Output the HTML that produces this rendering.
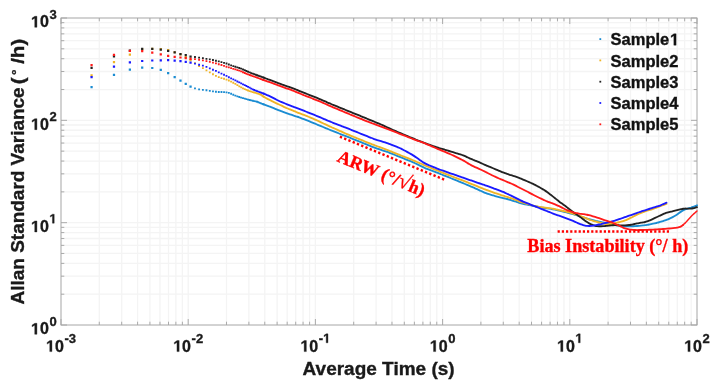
<!DOCTYPE html>
<html><head><meta charset="utf-8"><style>
html,body{margin:0;padding:0;background:#fff;width:715px;height:388px;overflow:hidden}
svg{display:block;filter:blur(0.45px)}
text{font-family:"Liberation Sans",sans-serif;font-weight:bold;fill:#1a1a1a;stroke:#1a1a1a;stroke-width:0.35px}
.tk{font-size:16px}
.sup{font-size:13px}
.leg{font-size:16.5px;fill:#111;stroke:#111}
.axl{font-size:18px;fill:#1a1a1a}
.ann{font-family:"Liberation Serif",serif;font-size:18px;fill:#ff0000;stroke:#ff0000}
</style></head><body>
<svg width="715" height="388" viewBox="0 0 715 388">
<path d="M99.29 18.0V325.0M121.69 18.0V325.0M137.58 18.0V325.0M149.91 18.0V325.0M159.98 18.0V325.0M168.50 18.0V325.0M175.87 18.0V325.0M182.38 18.0V325.0M188.20 18.0V325.0M226.49 18.0V325.0M248.89 18.0V325.0M264.78 18.0V325.0M277.11 18.0V325.0M287.18 18.0V325.0M295.70 18.0V325.0M303.07 18.0V325.0M309.58 18.0V325.0M315.40 18.0V325.0M353.69 18.0V325.0M376.09 18.0V325.0M391.98 18.0V325.0M404.31 18.0V325.0M414.38 18.0V325.0M422.90 18.0V325.0M430.27 18.0V325.0M436.78 18.0V325.0M442.60 18.0V325.0M480.89 18.0V325.0M503.29 18.0V325.0M519.18 18.0V325.0M531.51 18.0V325.0M541.58 18.0V325.0M550.10 18.0V325.0M557.47 18.0V325.0M563.98 18.0V325.0M569.80 18.0V325.0M608.09 18.0V325.0M630.49 18.0V325.0M646.38 18.0V325.0M658.71 18.0V325.0M668.78 18.0V325.0M677.30 18.0V325.0M684.67 18.0V325.0M691.18 18.0V325.0M61.0 294.19H697.0M61.0 276.17H697.0M61.0 263.39H697.0M61.0 253.47H697.0M61.0 245.37H697.0M61.0 238.52H697.0M61.0 232.58H697.0M61.0 227.35H697.0M61.0 222.67H697.0M61.0 191.86H697.0M61.0 173.84H697.0M61.0 161.06H697.0M61.0 151.14H697.0M61.0 143.04H697.0M61.0 136.18H697.0M61.0 130.25H697.0M61.0 125.02H697.0M61.0 120.33H697.0M61.0 89.53H697.0M61.0 71.51H697.0M61.0 58.72H697.0M61.0 48.81H697.0M61.0 40.70H697.0M61.0 33.85H697.0M61.0 27.92H697.0M61.0 22.68H697.0" stroke="#f4f4f4" stroke-width="1.3" fill="none"/>
<path d="M61.00 325.0v-6.0M61.00 18.0v6.0M99.29 325.0v-3.3M99.29 18.0v3.3M121.69 325.0v-3.3M121.69 18.0v3.3M137.58 325.0v-3.3M137.58 18.0v3.3M149.91 325.0v-3.3M149.91 18.0v3.3M159.98 325.0v-3.3M159.98 18.0v3.3M168.50 325.0v-3.3M168.50 18.0v3.3M175.87 325.0v-3.3M175.87 18.0v3.3M182.38 325.0v-3.3M182.38 18.0v3.3M188.20 325.0v-6.0M188.20 18.0v6.0M226.49 325.0v-3.3M226.49 18.0v3.3M248.89 325.0v-3.3M248.89 18.0v3.3M264.78 325.0v-3.3M264.78 18.0v3.3M277.11 325.0v-3.3M277.11 18.0v3.3M287.18 325.0v-3.3M287.18 18.0v3.3M295.70 325.0v-3.3M295.70 18.0v3.3M303.07 325.0v-3.3M303.07 18.0v3.3M309.58 325.0v-3.3M309.58 18.0v3.3M315.40 325.0v-6.0M315.40 18.0v6.0M353.69 325.0v-3.3M353.69 18.0v3.3M376.09 325.0v-3.3M376.09 18.0v3.3M391.98 325.0v-3.3M391.98 18.0v3.3M404.31 325.0v-3.3M404.31 18.0v3.3M414.38 325.0v-3.3M414.38 18.0v3.3M422.90 325.0v-3.3M422.90 18.0v3.3M430.27 325.0v-3.3M430.27 18.0v3.3M436.78 325.0v-3.3M436.78 18.0v3.3M442.60 325.0v-6.0M442.60 18.0v6.0M480.89 325.0v-3.3M480.89 18.0v3.3M503.29 325.0v-3.3M503.29 18.0v3.3M519.18 325.0v-3.3M519.18 18.0v3.3M531.51 325.0v-3.3M531.51 18.0v3.3M541.58 325.0v-3.3M541.58 18.0v3.3M550.10 325.0v-3.3M550.10 18.0v3.3M557.47 325.0v-3.3M557.47 18.0v3.3M563.98 325.0v-3.3M563.98 18.0v3.3M569.80 325.0v-6.0M569.80 18.0v6.0M608.09 325.0v-3.3M608.09 18.0v3.3M630.49 325.0v-3.3M630.49 18.0v3.3M646.38 325.0v-3.3M646.38 18.0v3.3M658.71 325.0v-3.3M658.71 18.0v3.3M668.78 325.0v-3.3M668.78 18.0v3.3M677.30 325.0v-3.3M677.30 18.0v3.3M684.67 325.0v-3.3M684.67 18.0v3.3M691.18 325.0v-3.3M691.18 18.0v3.3M697.00 325.0v-6.0M697.00 18.0v6.0M61.0 325.00h6.0M697.0 325.00h-6.0M61.0 294.19h3.3M697.0 294.19h-3.3M61.0 276.17h3.3M697.0 276.17h-3.3M61.0 263.39h3.3M697.0 263.39h-3.3M61.0 253.47h3.3M697.0 253.47h-3.3M61.0 245.37h3.3M697.0 245.37h-3.3M61.0 238.52h3.3M697.0 238.52h-3.3M61.0 232.58h3.3M697.0 232.58h-3.3M61.0 227.35h3.3M697.0 227.35h-3.3M61.0 222.67h6.0M697.0 222.67h-6.0M61.0 191.86h3.3M697.0 191.86h-3.3M61.0 173.84h3.3M697.0 173.84h-3.3M61.0 161.06h3.3M697.0 161.06h-3.3M61.0 151.14h3.3M697.0 151.14h-3.3M61.0 143.04h3.3M697.0 143.04h-3.3M61.0 136.18h3.3M697.0 136.18h-3.3M61.0 130.25h3.3M697.0 130.25h-3.3M61.0 125.02h3.3M697.0 125.02h-3.3M61.0 120.33h6.0M697.0 120.33h-6.0M61.0 89.53h3.3M697.0 89.53h-3.3M61.0 71.51h3.3M697.0 71.51h-3.3M61.0 58.72h3.3M697.0 58.72h-3.3M61.0 48.81h3.3M697.0 48.81h-3.3M61.0 40.70h3.3M697.0 40.70h-3.3M61.0 33.85h3.3M697.0 33.85h-3.3M61.0 27.92h3.3M697.0 27.92h-3.3M61.0 22.68h3.3M697.0 22.68h-3.3M61.0 18.00h6.0M697.0 18.00h-6.0" stroke="#ababab" stroke-width="1" fill="none"/>
<rect x="61.0" y="18.0" width="636.0" height="307.0" fill="none" stroke="#a6a6a6" stroke-width="1"/>
<path d="M90.46 85.98h2.24v2.24h-2.24zM112.86 73.69h2.24v2.24h-2.24zM128.75 68.39h2.24v2.24h-2.24zM141.08 66.48h2.24v2.24h-2.24zM151.15 66.88h2.24v2.24h-2.24zM159.66 68.85h2.24v2.24h-2.24zM167.04 72.12h2.24v2.24h-2.24zM173.55 75.90h2.24v2.24h-2.24zM179.37 79.57h2.24v2.24h-2.24zM184.63 82.87h2.24v2.24h-2.24zM189.44 85.56h2.24v2.24h-2.24zM194.06 87.44h1.84v1.84h-1.84zM198.16 88.39h1.84v1.84h-1.84zM201.97 88.98h1.84v1.84h-1.84zM205.53 89.37h1.84v1.84h-1.84zM208.88 89.95h1.84v1.84h-1.84zM212.04 90.44h1.84v1.84h-1.84zM215.03 90.82h1.84v1.84h-1.84zM217.86 91.04h1.84v1.84h-1.84zM220.55 91.08h1.84v1.84h-1.84zM223.12 91.14h1.84v1.84h-1.84zM225.58 91.39h1.84v1.84h-1.84zM227.93 91.97h1.84v1.84h-1.84zM230.19 92.87h1.84v1.84h-1.84zM232.35 93.80h1.84v1.84h-1.84zM234.44 94.63h1.84v1.84h-1.84zM236.45 95.39h1.84v1.84h-1.84zM238.38 96.08h1.84v1.84h-1.84zM240.26 96.68h1.84v1.84h-1.84zM242.07 97.23h1.84v1.84h-1.84zM243.82 97.74h1.84v1.84h-1.84zM245.52 98.28h1.84v1.84h-1.84zM247.17 98.76h1.84v1.84h-1.84zM248.77 99.11h1.84v1.84h-1.84zM250.33 99.46h1.84v1.84h-1.84zM251.84 99.83h1.84v1.84h-1.84zM253.32 100.18h1.84v1.84h-1.84zM254.75 100.52h1.84v1.84h-1.84zM256.15 100.85h1.84v1.84h-1.84zM257.51 101.36h1.84v1.84h-1.84zM258.85 101.89h1.84v1.84h-1.84zM260.14 102.42h1.84v1.84h-1.84zM261.41 102.95h1.84v1.84h-1.84zM262.66 103.46h1.84v1.84h-1.84z" fill="#1a8cd2"/>
<path d="M263.08 104.17 C263.41 104.30 264.41 104.70 265.08 104.96 C265.74 105.22 266.41 105.46 267.08 105.71 C267.74 105.96 268.41 106.19 269.08 106.43 C269.74 106.68 270.41 106.92 271.08 107.18 C271.74 107.44 272.41 107.70 273.08 107.97 C273.74 108.23 274.41 108.51 275.08 108.78 C275.74 109.05 276.41 109.33 277.08 109.60 C277.74 109.86 278.41 110.13 279.08 110.40 C279.74 110.66 280.41 110.91 281.08 111.16 C281.74 111.42 282.41 111.66 283.08 111.90 C283.74 112.14 284.41 112.38 285.08 112.62 C285.74 112.86 286.41 113.10 287.08 113.34 C287.74 113.57 288.41 113.81 289.08 114.04 C289.74 114.28 290.41 114.51 291.08 114.74 C291.74 114.97 292.41 115.19 293.08 115.41 C293.74 115.62 294.41 115.83 295.08 116.04 C295.74 116.25 296.41 116.44 297.08 116.66 C297.74 116.87 298.41 117.08 299.08 117.31 C299.74 117.54 300.41 117.79 301.08 118.04 C301.74 118.29 302.41 118.55 303.08 118.82 C303.74 119.08 304.41 119.35 305.08 119.61 C305.74 119.88 306.41 120.15 307.08 120.42 C307.74 120.69 308.41 120.96 309.08 121.23 C309.74 121.50 310.41 121.77 311.08 122.05 C311.74 122.32 312.41 122.59 313.08 122.87 C313.74 123.14 314.41 123.42 315.08 123.70 C315.74 123.97 316.41 124.25 317.08 124.53 C317.74 124.80 318.41 125.08 319.08 125.36 C319.74 125.63 320.41 125.91 321.08 126.19 C321.74 126.47 322.41 126.74 323.08 127.02 C323.74 127.30 324.41 127.57 325.08 127.85 C325.74 128.13 326.41 128.41 327.08 128.68 C327.74 128.96 328.41 129.23 329.08 129.51 C329.74 129.78 330.41 130.05 331.08 130.32 C331.74 130.58 332.41 130.85 333.08 131.11 C333.74 131.38 334.41 131.64 335.08 131.91 C335.74 132.17 336.41 132.43 337.08 132.70 C337.74 132.96 338.41 133.22 339.08 133.49 C339.74 133.75 340.41 134.01 341.08 134.28 C341.74 134.54 342.41 134.80 343.08 135.07 C343.74 135.33 344.41 135.60 345.08 135.86 C345.74 136.12 346.41 136.39 347.08 136.65 C347.74 136.92 348.41 137.18 349.08 137.45 C349.74 137.71 350.41 137.98 351.08 138.25 C351.74 138.51 352.41 138.78 353.08 139.04 C353.74 139.31 354.41 139.57 355.08 139.84 C355.74 140.11 356.41 140.37 357.08 140.64 C357.74 140.90 358.41 141.17 359.08 141.44 C359.74 141.70 360.41 141.97 361.08 142.23 C361.74 142.50 362.41 142.77 363.08 143.04 C363.74 143.31 364.41 143.58 365.08 143.85 C365.74 144.12 366.41 144.39 367.08 144.66 C367.74 144.93 368.41 145.21 369.08 145.48 C369.74 145.75 370.41 146.02 371.08 146.29 C371.74 146.56 372.41 146.83 373.08 147.10 C373.74 147.36 374.41 147.61 375.08 147.86 C375.74 148.10 376.41 148.33 377.08 148.56 C377.74 148.79 378.41 149.01 379.08 149.23 C379.74 149.44 380.41 149.66 381.08 149.88 C381.74 150.10 382.41 150.31 383.08 150.53 C383.74 150.75 384.41 150.96 385.08 151.19 C385.74 151.41 386.41 151.64 387.08 151.87 C387.74 152.11 388.41 152.35 389.08 152.61 C389.74 152.86 390.41 153.12 391.08 153.39 C391.74 153.65 392.41 153.92 393.08 154.19 C393.74 154.45 394.41 154.72 395.08 154.99 C395.74 155.26 396.41 155.53 397.08 155.80 C397.74 156.07 398.41 156.34 399.08 156.61 C399.74 156.87 400.41 157.14 401.08 157.41 C401.74 157.68 402.41 157.95 403.08 158.22 C403.74 158.49 404.41 158.76 405.08 159.02 C405.74 159.29 406.41 159.56 407.08 159.83 C407.74 160.10 408.41 160.37 409.08 160.64 C409.74 160.91 410.41 161.18 411.08 161.45 C411.74 161.73 412.41 162.01 413.08 162.30 C413.74 162.60 414.41 162.90 415.08 163.22 C415.74 163.53 416.41 163.85 417.08 164.18 C417.74 164.50 418.41 164.84 419.08 165.16 C419.74 165.49 420.41 165.83 421.08 166.15 C421.74 166.48 422.41 166.81 423.08 167.12 C423.74 167.43 424.41 167.74 425.08 168.03 C425.74 168.32 426.41 168.60 427.08 168.87 C427.74 169.13 428.41 169.39 429.08 169.65 C429.74 169.90 430.41 170.15 431.08 170.41 C431.74 170.66 432.41 170.91 433.08 171.17 C433.74 171.42 434.41 171.67 435.08 171.93 C435.74 172.18 436.41 172.44 437.08 172.70 C437.74 172.95 438.41 173.21 439.08 173.47 C439.74 173.73 440.41 174.00 441.08 174.26 C441.74 174.53 442.41 174.79 443.08 175.05 C443.74 175.32 444.41 175.58 445.08 175.85 C445.74 176.11 446.41 176.38 447.08 176.64 C447.74 176.91 448.41 177.17 449.08 177.44 C449.74 177.71 450.41 177.98 451.08 178.25 C451.74 178.52 452.41 178.79 453.08 179.06 C453.74 179.34 454.41 179.61 455.08 179.88 C455.74 180.16 456.41 180.43 457.08 180.71 C457.74 180.98 458.41 181.26 459.08 181.53 C459.74 181.81 460.41 182.08 461.08 182.35 C461.74 182.63 462.41 182.90 463.08 183.18 C463.74 183.45 464.41 183.72 465.08 184.00 C465.74 184.28 466.41 184.55 467.08 184.83 C467.74 185.11 468.41 185.40 469.08 185.69 C469.74 185.97 470.41 186.26 471.08 186.55 C471.74 186.85 472.41 187.14 473.08 187.43 C473.74 187.73 474.41 188.02 475.08 188.31 C475.74 188.61 476.41 188.90 477.08 189.20 C477.74 189.50 478.41 189.80 479.08 190.10 C479.74 190.41 480.41 190.71 481.08 191.01 C481.74 191.31 482.41 191.62 483.08 191.91 C483.74 192.20 484.41 192.50 485.08 192.77 C485.74 193.04 486.41 193.29 487.08 193.53 C487.74 193.77 488.41 193.99 489.08 194.21 C489.74 194.43 490.41 194.63 491.08 194.84 C491.74 195.04 492.41 195.25 493.08 195.45 C493.74 195.65 494.41 195.85 495.08 196.04 C495.74 196.23 496.41 196.42 497.08 196.60 C497.74 196.77 498.41 196.94 499.08 197.11 C499.74 197.28 500.41 197.44 501.08 197.60 C501.74 197.76 502.41 197.92 503.08 198.07 C503.74 198.22 504.41 198.37 505.08 198.52 C505.74 198.67 506.41 198.82 507.08 198.99 C507.74 199.15 508.41 199.33 509.08 199.52 C509.74 199.71 510.41 199.92 511.08 200.14 C511.74 200.35 512.41 200.58 513.08 200.80 C513.74 201.02 514.41 201.25 515.08 201.47 C515.74 201.69 516.41 201.91 517.08 202.12 C517.74 202.33 518.41 202.54 519.08 202.74 C519.74 202.94 520.41 203.14 521.08 203.31 C521.74 203.49 522.41 203.65 523.08 203.80 C523.74 203.95 524.41 204.09 525.08 204.23 C525.74 204.37 526.41 204.50 527.08 204.64 C527.74 204.77 528.41 204.91 529.08 205.04 C529.74 205.17 530.41 205.31 531.08 205.45 C531.74 205.58 532.41 205.72 533.08 205.85 C533.74 205.98 534.41 206.12 535.08 206.25 C535.74 206.39 536.41 206.52 537.08 206.65 C537.74 206.78 538.41 206.92 539.08 207.04 C539.74 207.17 540.41 207.29 541.08 207.41 C541.74 207.53 542.41 207.64 543.08 207.75 C543.74 207.86 544.41 207.96 545.08 208.06 C545.74 208.17 546.41 208.27 547.08 208.37 C547.74 208.47 548.41 208.56 549.08 208.66 C549.74 208.75 550.41 208.85 551.08 208.95 C551.74 209.05 552.41 209.15 553.08 209.27 C553.74 209.39 554.41 209.52 555.08 209.66 C555.74 209.79 556.41 209.95 557.08 210.10 C557.74 210.25 558.41 210.41 559.08 210.56 C559.74 210.72 560.41 210.87 561.08 211.03 C561.74 211.19 562.41 211.35 563.08 211.51 C563.74 211.67 564.41 211.83 565.08 212.00 C565.74 212.17 566.41 212.35 567.08 212.52 C567.74 212.70 568.41 212.88 569.08 213.06 C569.74 213.24 570.41 213.43 571.08 213.61 C571.74 213.79 572.41 213.97 573.08 214.16 C573.74 214.35 574.41 214.54 575.08 214.74 C575.74 214.95 576.41 215.16 577.08 215.38 C577.74 215.60 578.41 215.83 579.08 216.05 C579.74 216.27 580.41 216.50 581.08 216.72 C581.74 216.93 582.41 217.15 583.08 217.35 C583.74 217.56 584.41 217.77 585.08 217.97 C585.74 218.17 586.41 218.37 587.08 218.57 C587.74 218.77 588.41 218.96 589.08 219.15 C589.74 219.34 590.41 219.53 591.08 219.71 C591.74 219.89 592.41 220.06 593.08 220.23 C593.74 220.40 594.41 220.56 595.08 220.72 C595.74 220.88 596.41 221.02 597.08 221.17 C597.74 221.31 598.41 221.45 599.08 221.59 C599.74 221.73 600.41 221.87 601.08 222.02 C601.74 222.17 602.41 222.32 603.08 222.49 C603.74 222.65 604.41 222.82 605.08 222.99 C605.74 223.17 606.41 223.36 607.08 223.54 C607.74 223.72 608.41 223.91 609.08 224.07 C609.74 224.23 610.41 224.38 611.08 224.51 C611.74 224.63 612.41 224.73 613.08 224.83 C613.74 224.92 614.41 225.01 615.08 225.10 C615.74 225.19 616.41 225.29 617.08 225.38 C617.74 225.47 618.41 225.57 619.08 225.66 C619.74 225.75 620.41 225.84 621.08 225.92 C621.74 226.00 622.41 226.07 623.08 226.13 C623.74 226.19 624.41 226.25 625.08 226.28 C625.74 226.32 626.41 226.35 627.08 226.36 C627.74 226.38 628.41 226.38 629.08 226.38 C629.74 226.37 630.41 226.36 631.08 226.34 C631.74 226.32 632.41 226.29 633.08 226.25 C633.74 226.22 634.41 226.18 635.08 226.14 C635.74 226.10 636.41 226.05 637.08 226.00 C637.74 225.95 638.41 225.90 639.08 225.85 C639.74 225.79 640.41 225.73 641.08 225.67 C641.74 225.60 642.41 225.53 643.08 225.45 C643.74 225.38 644.41 225.29 645.08 225.20 C645.74 225.11 646.41 225.00 647.08 224.89 C647.74 224.78 648.41 224.66 649.08 224.53 C649.74 224.41 650.41 224.27 651.08 224.13 C651.74 223.99 652.41 223.84 653.08 223.69 C653.74 223.54 654.41 223.38 655.08 223.23 C655.74 223.07 656.41 222.92 657.08 222.75 C657.74 222.59 658.41 222.43 659.08 222.25 C659.74 222.08 660.41 221.89 661.08 221.69 C661.74 221.50 662.41 221.29 663.08 221.07 C663.74 220.85 664.41 220.62 665.08 220.38 C665.74 220.14 666.41 219.88 667.08 219.62 C667.74 219.36 668.41 219.08 669.08 218.79 C669.74 218.51 670.41 218.21 671.08 217.90 C671.74 217.59 672.41 217.27 673.08 216.91 C673.74 216.56 674.41 216.20 675.08 215.79 C675.74 215.38 676.41 214.93 677.08 214.47 C677.74 214.00 678.41 213.49 679.08 213.01 C679.74 212.53 680.41 212.04 681.08 211.61 C681.74 211.18 682.41 210.77 683.08 210.42 C683.74 210.06 684.41 209.75 685.08 209.48 C685.74 209.20 686.41 208.98 687.08 208.77 C687.74 208.55 688.41 208.38 689.08 208.18 C689.74 207.98 690.41 207.78 691.08 207.57 C691.74 207.35 692.41 207.12 693.08 206.88 C693.74 206.64 694.42 206.38 695.08 206.11 C695.73 205.85 696.68 205.44 697.00 205.30" fill="none" stroke="#1a8cd2" stroke-width="1.85" stroke-linejoin="round" stroke-linecap="round"/>
<path d="M90.46 74.17h2.24v2.24h-2.24zM112.86 60.89h2.24v2.24h-2.24zM128.75 53.49h2.24v2.24h-2.24zM141.08 48.18h2.24v2.24h-2.24zM151.15 47.78h2.24v2.24h-2.24zM159.66 48.08h2.24v2.24h-2.24zM167.04 48.90h2.24v2.24h-2.24zM173.55 51.13h2.24v2.24h-2.24zM179.37 53.18h2.24v2.24h-2.24zM184.63 56.11h2.24v2.24h-2.24zM189.44 59.12h2.24v2.24h-2.24zM194.06 62.17h1.84v1.84h-1.84zM198.16 65.12h1.84v1.84h-1.84zM201.97 67.27h1.84v1.84h-1.84zM205.53 69.41h1.84v1.84h-1.84zM208.88 71.38h1.84v1.84h-1.84zM212.04 73.31h1.84v1.84h-1.84zM215.03 75.00h1.84v1.84h-1.84zM217.86 76.22h1.84v1.84h-1.84zM220.55 77.17h1.84v1.84h-1.84zM223.12 77.82h1.84v1.84h-1.84zM225.58 78.66h1.84v1.84h-1.84zM227.93 79.55h1.84v1.84h-1.84zM230.19 80.68h1.84v1.84h-1.84zM232.35 81.82h1.84v1.84h-1.84zM234.44 82.92h1.84v1.84h-1.84zM236.45 84.16h1.84v1.84h-1.84zM238.38 85.42h1.84v1.84h-1.84zM240.26 86.41h1.84v1.84h-1.84zM242.07 87.38h1.84v1.84h-1.84zM243.82 88.25h1.84v1.84h-1.84zM245.52 88.90h1.84v1.84h-1.84zM247.17 89.54h1.84v1.84h-1.84zM248.77 90.16h1.84v1.84h-1.84zM250.33 90.78h1.84v1.84h-1.84zM251.84 91.26h1.84v1.84h-1.84zM253.32 91.61h1.84v1.84h-1.84zM254.75 91.95h1.84v1.84h-1.84zM256.15 92.40h1.84v1.84h-1.84zM257.51 92.86h1.84v1.84h-1.84zM258.85 93.30h1.84v1.84h-1.84zM260.14 93.81h1.84v1.84h-1.84zM261.41 94.79h1.84v1.84h-1.84zM262.66 95.75h1.84v1.84h-1.84z" fill="#efb426"/>
<path d="M263.08 96.28 C263.41 96.48 264.41 97.10 265.08 97.48 C265.74 97.87 266.41 98.24 267.08 98.61 C267.74 98.97 268.41 99.32 269.08 99.67 C269.74 100.01 270.41 100.35 271.08 100.68 C271.74 101.02 272.41 101.34 273.08 101.66 C273.74 101.98 274.41 102.29 275.08 102.60 C275.74 102.92 276.41 103.23 277.08 103.54 C277.74 103.85 278.41 104.17 279.08 104.49 C279.74 104.80 280.41 105.13 281.08 105.45 C281.74 105.78 282.41 106.11 283.08 106.43 C283.74 106.75 284.41 107.08 285.08 107.38 C285.74 107.69 286.41 107.98 287.08 108.25 C287.74 108.53 288.41 108.78 289.08 109.03 C289.74 109.29 290.41 109.52 291.08 109.78 C291.74 110.04 292.41 110.30 293.08 110.57 C293.74 110.85 294.41 111.14 295.08 111.44 C295.74 111.73 296.41 112.04 297.08 112.34 C297.74 112.63 298.41 112.92 299.08 113.20 C299.74 113.47 300.41 113.72 301.08 113.97 C301.74 114.22 302.41 114.44 303.08 114.68 C303.74 114.92 304.41 115.15 305.08 115.40 C305.74 115.65 306.41 115.91 307.08 116.17 C307.74 116.44 308.41 116.71 309.08 116.99 C309.74 117.27 310.41 117.55 311.08 117.84 C311.74 118.12 312.41 118.41 313.08 118.70 C313.74 118.99 314.41 119.29 315.08 119.59 C315.74 119.88 316.41 120.18 317.08 120.48 C317.74 120.78 318.41 121.09 319.08 121.39 C319.74 121.70 320.41 122.01 321.08 122.32 C321.74 122.63 322.41 122.94 323.08 123.25 C323.74 123.57 324.41 123.88 325.08 124.19 C325.74 124.50 326.41 124.82 327.08 125.13 C327.74 125.44 328.41 125.75 329.08 126.06 C329.74 126.37 330.41 126.67 331.08 126.97 C331.74 127.28 332.41 127.58 333.08 127.88 C333.74 128.18 334.41 128.48 335.08 128.78 C335.74 129.08 336.41 129.38 337.08 129.68 C337.74 129.98 338.41 130.28 339.08 130.58 C339.74 130.88 340.41 131.18 341.08 131.47 C341.74 131.77 342.41 132.07 343.08 132.37 C343.74 132.67 344.41 132.97 345.08 133.26 C345.74 133.55 346.41 133.84 347.08 134.13 C347.74 134.41 348.41 134.69 349.08 134.97 C349.74 135.25 350.41 135.52 351.08 135.80 C351.74 136.07 352.41 136.34 353.08 136.62 C353.74 136.89 354.41 137.17 355.08 137.44 C355.74 137.71 356.41 137.99 357.08 138.26 C357.74 138.54 358.41 138.81 359.08 139.08 C359.74 139.36 360.41 139.63 361.08 139.90 C361.74 140.18 362.41 140.45 363.08 140.72 C363.74 140.99 364.41 141.26 365.08 141.53 C365.74 141.80 366.41 142.06 367.08 142.33 C367.74 142.60 368.41 142.86 369.08 143.13 C369.74 143.40 370.41 143.66 371.08 143.93 C371.74 144.19 372.41 144.46 373.08 144.72 C373.74 144.98 374.41 145.24 375.08 145.50 C375.74 145.75 376.41 146.00 377.08 146.25 C377.74 146.50 378.41 146.74 379.08 146.98 C379.74 147.23 380.41 147.47 381.08 147.71 C381.74 147.96 382.41 148.20 383.08 148.44 C383.74 148.69 384.41 148.93 385.08 149.18 C385.74 149.42 386.41 149.67 387.08 149.92 C387.74 150.17 388.41 150.43 389.08 150.69 C389.74 150.95 390.41 151.22 391.08 151.48 C391.74 151.75 392.41 152.02 393.08 152.29 C393.74 152.56 394.41 152.82 395.08 153.09 C395.74 153.36 396.41 153.63 397.08 153.90 C397.74 154.17 398.41 154.44 399.08 154.70 C399.74 154.97 400.41 155.24 401.08 155.50 C401.74 155.77 402.41 156.03 403.08 156.30 C403.74 156.56 404.41 156.83 405.08 157.09 C405.74 157.35 406.41 157.62 407.08 157.88 C407.74 158.15 408.41 158.41 409.08 158.67 C409.74 158.94 410.41 159.20 411.08 159.47 C411.74 159.74 412.41 160.01 413.08 160.28 C413.74 160.56 414.41 160.84 415.08 161.13 C415.74 161.41 416.41 161.70 417.08 162.00 C417.74 162.29 418.41 162.58 419.08 162.88 C419.74 163.17 420.41 163.47 421.08 163.76 C421.74 164.06 422.41 164.35 423.08 164.64 C423.74 164.93 424.41 165.22 425.08 165.51 C425.74 165.79 426.41 166.07 427.08 166.35 C427.74 166.63 428.41 166.90 429.08 167.17 C429.74 167.45 430.41 167.72 431.08 168.00 C431.74 168.27 432.41 168.54 433.08 168.82 C433.74 169.09 434.41 169.37 435.08 169.64 C435.74 169.91 436.41 170.18 437.08 170.45 C437.74 170.72 438.41 170.99 439.08 171.26 C439.74 171.53 440.41 171.79 441.08 172.06 C441.74 172.32 442.41 172.59 443.08 172.85 C443.74 173.12 444.41 173.38 445.08 173.65 C445.74 173.91 446.41 174.18 447.08 174.44 C447.74 174.70 448.41 174.97 449.08 175.23 C449.74 175.49 450.41 175.75 451.08 176.00 C451.74 176.26 452.41 176.51 453.08 176.77 C453.74 177.02 454.41 177.27 455.08 177.52 C455.74 177.78 456.41 178.03 457.08 178.28 C457.74 178.54 458.41 178.79 459.08 179.05 C459.74 179.31 460.41 179.57 461.08 179.84 C461.74 180.10 462.41 180.37 463.08 180.63 C463.74 180.90 464.41 181.16 465.08 181.43 C465.74 181.70 466.41 181.96 467.08 182.23 C467.74 182.49 468.41 182.76 469.08 183.02 C469.74 183.29 470.41 183.55 471.08 183.81 C471.74 184.08 472.41 184.34 473.08 184.61 C473.74 184.87 474.41 185.14 475.08 185.40 C475.74 185.67 476.41 185.93 477.08 186.20 C477.74 186.47 478.41 186.74 479.08 187.02 C479.74 187.29 480.41 187.56 481.08 187.83 C481.74 188.11 482.41 188.38 483.08 188.65 C483.74 188.92 484.41 189.19 485.08 189.45 C485.74 189.71 486.41 189.97 487.08 190.21 C487.74 190.46 488.41 190.70 489.08 190.94 C489.74 191.18 490.41 191.41 491.08 191.64 C491.74 191.88 492.41 192.11 493.08 192.34 C493.74 192.57 494.41 192.81 495.08 193.03 C495.74 193.26 496.41 193.49 497.08 193.71 C497.74 193.93 498.41 194.15 499.08 194.37 C499.74 194.59 500.41 194.81 501.08 195.02 C501.74 195.24 502.41 195.45 503.08 195.66 C503.74 195.87 504.41 196.08 505.08 196.28 C505.74 196.49 506.41 196.70 507.08 196.91 C507.74 197.12 508.41 197.34 509.08 197.55 C509.74 197.77 510.41 198.00 511.08 198.22 C511.74 198.45 512.41 198.68 513.08 198.92 C513.74 199.16 514.41 199.41 515.08 199.66 C515.74 199.92 516.41 200.19 517.08 200.46 C517.74 200.73 518.41 201.02 519.08 201.28 C519.74 201.55 520.41 201.81 521.08 202.05 C521.74 202.29 522.41 202.51 523.08 202.72 C523.74 202.93 524.41 203.12 525.08 203.32 C525.74 203.51 526.41 203.70 527.08 203.89 C527.74 204.08 528.41 204.28 529.08 204.48 C529.74 204.68 530.41 204.89 531.08 205.08 C531.74 205.28 532.41 205.48 533.08 205.65 C533.74 205.83 534.41 205.99 535.08 206.13 C535.74 206.28 536.41 206.39 537.08 206.51 C537.74 206.63 538.41 206.73 539.08 206.83 C539.74 206.93 540.41 207.03 541.08 207.13 C541.74 207.23 542.41 207.32 543.08 207.42 C543.74 207.51 544.41 207.61 545.08 207.69 C545.74 207.78 546.41 207.87 547.08 207.96 C547.74 208.04 548.41 208.12 549.08 208.20 C549.74 208.28 550.41 208.35 551.08 208.43 C551.74 208.52 552.41 208.61 553.08 208.72 C553.74 208.83 554.41 208.96 555.08 209.10 C555.74 209.23 556.41 209.39 557.08 209.55 C557.74 209.71 558.41 209.88 559.08 210.04 C559.74 210.20 560.41 210.36 561.08 210.52 C561.74 210.68 562.41 210.84 563.08 211.00 C563.74 211.16 564.41 211.31 565.08 211.47 C565.74 211.63 566.41 211.78 567.08 211.95 C567.74 212.11 568.41 212.27 569.08 212.45 C569.74 212.62 570.41 212.81 571.08 213.00 C571.74 213.20 572.41 213.41 573.08 213.62 C573.74 213.83 574.41 214.05 575.08 214.27 C575.74 214.49 576.41 214.71 577.08 214.93 C577.74 215.16 578.41 215.38 579.08 215.62 C579.74 215.85 580.41 216.09 581.08 216.34 C581.74 216.59 582.41 216.85 583.08 217.11 C583.74 217.37 584.41 217.64 585.08 217.91 C585.74 218.18 586.41 218.46 587.08 218.72 C587.74 218.99 588.41 219.26 589.08 219.52 C589.74 219.77 590.41 220.02 591.08 220.25 C591.74 220.48 592.41 220.70 593.08 220.90 C593.74 221.11 594.41 221.29 595.08 221.48 C595.74 221.66 596.41 221.84 597.08 222.01 C597.74 222.17 598.41 222.33 599.08 222.50 C599.74 222.66 600.41 222.81 601.08 222.97 C601.74 223.12 602.41 223.28 603.08 223.42 C603.74 223.56 604.41 223.71 605.08 223.83 C605.74 223.94 606.41 224.05 607.08 224.11 C607.74 224.17 608.41 224.20 609.08 224.18 C609.74 224.16 610.41 224.09 611.08 223.99 C611.74 223.90 612.41 223.74 613.08 223.59 C613.74 223.45 614.41 223.27 615.08 223.12 C615.74 222.97 616.41 222.82 617.08 222.67 C617.74 222.52 618.41 222.39 619.08 222.23 C619.74 222.07 620.41 221.91 621.08 221.72 C621.74 221.53 622.41 221.33 623.08 221.10 C623.74 220.88 624.41 220.64 625.08 220.39 C625.74 220.13 626.41 219.86 627.08 219.57 C627.74 219.28 628.41 218.98 629.08 218.66 C629.74 218.35 630.41 218.02 631.08 217.68 C631.74 217.35 632.41 216.99 633.08 216.64 C633.74 216.30 634.41 215.94 635.08 215.60 C635.74 215.25 636.41 214.92 637.08 214.60 C637.74 214.27 638.41 213.96 639.08 213.67 C639.74 213.37 640.41 213.09 641.08 212.82 C641.74 212.55 642.41 212.31 643.08 212.07 C643.74 211.83 644.41 211.61 645.08 211.39 C645.74 211.17 646.41 210.96 647.08 210.74 C647.74 210.53 648.41 210.33 649.08 210.12 C649.74 209.91 650.41 209.71 651.08 209.50 C651.74 209.29 652.41 209.09 653.08 208.87 C653.74 208.65 654.41 208.43 655.08 208.19 C655.74 207.96 656.41 207.71 657.08 207.46 C657.74 207.21 658.41 206.95 659.08 206.69 C659.74 206.43 660.41 206.16 661.08 205.91 C661.74 205.65 662.41 205.39 663.08 205.14 C663.74 204.90 664.51 204.66 665.08 204.43 C665.65 204.21 666.26 203.91 666.50 203.80" fill="none" stroke="#efb426" stroke-width="1.85" stroke-linejoin="round" stroke-linecap="round"/>
<path d="M90.46 66.79h2.24v2.24h-2.24zM112.86 55.19h2.24v2.24h-2.24zM128.75 49.39h2.24v2.24h-2.24zM141.08 47.68h2.24v2.24h-2.24zM151.15 47.68h2.24v2.24h-2.24zM159.66 48.47h2.24v2.24h-2.24zM167.04 49.69h2.24v2.24h-2.24zM173.55 51.25h2.24v2.24h-2.24zM179.37 52.98h2.24v2.24h-2.24zM184.63 54.09h2.24v2.24h-2.24zM189.44 55.39h2.24v2.24h-2.24zM194.06 56.08h1.84v1.84h-1.84zM198.16 56.69h1.84v1.84h-1.84zM201.97 57.28h1.84v1.84h-1.84zM205.53 57.89h1.84v1.84h-1.84zM208.88 58.38h1.84v1.84h-1.84zM212.04 59.09h1.84v1.84h-1.84zM215.03 59.79h1.84v1.84h-1.84zM217.86 60.50h1.84v1.84h-1.84zM220.55 61.23h1.84v1.84h-1.84zM223.12 61.92h1.84v1.84h-1.84zM225.58 62.62h1.84v1.84h-1.84zM227.93 63.55h1.84v1.84h-1.84zM230.19 64.44h1.84v1.84h-1.84zM232.35 65.15h1.84v1.84h-1.84zM234.44 65.83h1.84v1.84h-1.84zM236.45 66.46h1.84v1.84h-1.84zM238.38 67.07h1.84v1.84h-1.84zM240.26 67.77h1.84v1.84h-1.84zM242.07 68.57h1.84v1.84h-1.84zM243.82 69.35h1.84v1.84h-1.84zM245.52 70.09h1.84v1.84h-1.84zM247.17 70.80h1.84v1.84h-1.84zM248.77 71.49h1.84v1.84h-1.84zM250.33 72.13h1.84v1.84h-1.84zM251.84 72.71h1.84v1.84h-1.84zM253.32 73.28h1.84v1.84h-1.84zM254.75 73.83h1.84v1.84h-1.84zM256.15 74.33h1.84v1.84h-1.84zM257.51 74.81h1.84v1.84h-1.84zM258.85 75.28h1.84v1.84h-1.84zM260.14 75.74h1.84v1.84h-1.84zM261.41 76.21h1.84v1.84h-1.84zM262.66 76.68h1.84v1.84h-1.84z" fill="#222222"/>
<path d="M263.08 77.41 C263.41 77.54 264.41 77.91 265.08 78.16 C265.74 78.41 266.41 78.67 267.08 78.92 C267.74 79.17 268.41 79.43 269.08 79.68 C269.74 79.94 270.41 80.19 271.08 80.44 C271.74 80.70 272.41 80.95 273.08 81.20 C273.74 81.45 274.41 81.70 275.08 81.95 C275.74 82.20 276.41 82.45 277.08 82.70 C277.74 82.95 278.41 83.20 279.08 83.44 C279.74 83.68 280.41 83.93 281.08 84.16 C281.74 84.40 282.41 84.64 283.08 84.87 C283.74 85.11 284.41 85.34 285.08 85.57 C285.74 85.80 286.41 86.04 287.08 86.27 C287.74 86.50 288.41 86.73 289.08 86.97 C289.74 87.20 290.41 87.44 291.08 87.68 C291.74 87.92 292.41 88.16 293.08 88.41 C293.74 88.67 294.41 88.93 295.08 89.19 C295.74 89.45 296.41 89.72 297.08 89.98 C297.74 90.25 298.41 90.52 299.08 90.79 C299.74 91.06 300.41 91.33 301.08 91.60 C301.74 91.86 302.41 92.13 303.08 92.40 C303.74 92.67 304.41 92.94 305.08 93.20 C305.74 93.47 306.41 93.74 307.08 94.00 C307.74 94.27 308.41 94.53 309.08 94.79 C309.74 95.06 310.41 95.32 311.08 95.59 C311.74 95.85 312.41 96.11 313.08 96.38 C313.74 96.64 314.41 96.90 315.08 97.17 C315.74 97.44 316.41 97.70 317.08 97.97 C317.74 98.24 318.41 98.52 319.08 98.80 C319.74 99.08 320.41 99.37 321.08 99.66 C321.74 99.95 322.41 100.24 323.08 100.54 C323.74 100.83 324.41 101.13 325.08 101.42 C325.74 101.72 326.41 102.01 327.08 102.30 C327.74 102.60 328.41 102.89 329.08 103.17 C329.74 103.46 330.41 103.74 331.08 104.02 C331.74 104.30 332.41 104.58 333.08 104.85 C333.74 105.12 334.41 105.39 335.08 105.67 C335.74 105.94 336.41 106.21 337.08 106.48 C337.74 106.75 338.41 107.02 339.08 107.30 C339.74 107.57 340.41 107.84 341.08 108.11 C341.74 108.38 342.41 108.65 343.08 108.92 C343.74 109.20 344.41 109.47 345.08 109.74 C345.74 110.01 346.41 110.28 347.08 110.56 C347.74 110.83 348.41 111.10 349.08 111.38 C349.74 111.65 350.41 111.92 351.08 112.20 C351.74 112.47 352.41 112.75 353.08 113.02 C353.74 113.29 354.41 113.57 355.08 113.84 C355.74 114.11 356.41 114.39 357.08 114.66 C357.74 114.94 358.41 115.21 359.08 115.48 C359.74 115.76 360.41 116.03 361.08 116.30 C361.74 116.58 362.41 116.85 363.08 117.12 C363.74 117.40 364.41 117.67 365.08 117.94 C365.74 118.22 366.41 118.49 367.08 118.76 C367.74 119.03 368.41 119.31 369.08 119.58 C369.74 119.85 370.41 120.12 371.08 120.40 C371.74 120.67 372.41 120.94 373.08 121.21 C373.74 121.48 374.41 121.75 375.08 122.02 C375.74 122.29 376.41 122.56 377.08 122.83 C377.74 123.11 378.41 123.38 379.08 123.66 C379.74 123.94 380.41 124.23 381.08 124.52 C381.74 124.82 382.41 125.12 383.08 125.42 C383.74 125.73 384.41 126.04 385.08 126.34 C385.74 126.65 386.41 126.96 387.08 127.27 C387.74 127.57 388.41 127.88 389.08 128.19 C389.74 128.50 390.41 128.80 391.08 129.11 C391.74 129.41 392.41 129.72 393.08 130.02 C393.74 130.32 394.41 130.61 395.08 130.90 C395.74 131.19 396.41 131.47 397.08 131.75 C397.74 132.04 398.41 132.31 399.08 132.59 C399.74 132.87 400.41 133.15 401.08 133.43 C401.74 133.71 402.41 133.99 403.08 134.26 C403.74 134.54 404.41 134.82 405.08 135.10 C405.74 135.38 406.41 135.66 407.08 135.93 C407.74 136.21 408.41 136.49 409.08 136.77 C409.74 137.05 410.41 137.33 411.08 137.60 C411.74 137.88 412.41 138.15 413.08 138.43 C413.74 138.70 414.41 138.97 415.08 139.24 C415.74 139.51 416.41 139.78 417.08 140.04 C417.74 140.31 418.41 140.58 419.08 140.84 C419.74 141.11 420.41 141.37 421.08 141.64 C421.74 141.90 422.41 142.16 423.08 142.42 C423.74 142.68 424.41 142.94 425.08 143.19 C425.74 143.43 426.41 143.68 427.08 143.91 C427.74 144.15 428.41 144.39 429.08 144.62 C429.74 144.85 430.41 145.09 431.08 145.32 C431.74 145.55 432.41 145.79 433.08 146.02 C433.74 146.25 434.41 146.48 435.08 146.71 C435.74 146.94 436.41 147.17 437.08 147.38 C437.74 147.60 438.41 147.82 439.08 148.02 C439.74 148.23 440.41 148.43 441.08 148.63 C441.74 148.83 442.41 149.03 443.08 149.22 C443.74 149.42 444.41 149.62 445.08 149.81 C445.74 150.01 446.41 150.21 447.08 150.40 C447.74 150.60 448.41 150.80 449.08 150.99 C449.74 151.19 450.41 151.39 451.08 151.59 C451.74 151.79 452.41 151.99 453.08 152.19 C453.74 152.39 454.41 152.59 455.08 152.79 C455.74 152.99 456.41 153.20 457.08 153.40 C457.74 153.60 458.41 153.80 459.08 154.01 C459.74 154.21 460.41 154.41 461.08 154.63 C461.74 154.85 462.41 155.08 463.08 155.34 C463.74 155.59 464.41 155.88 465.08 156.17 C465.74 156.47 466.41 156.80 467.08 157.12 C467.74 157.43 468.41 157.76 469.08 158.07 C469.74 158.37 470.41 158.67 471.08 158.95 C471.74 159.23 472.41 159.48 473.08 159.75 C473.74 160.01 474.41 160.26 475.08 160.53 C475.74 160.80 476.41 161.06 477.08 161.34 C477.74 161.62 478.41 161.91 479.08 162.20 C479.74 162.49 480.41 162.79 481.08 163.09 C481.74 163.39 482.41 163.69 483.08 163.99 C483.74 164.28 484.41 164.59 485.08 164.89 C485.74 165.19 486.41 165.49 487.08 165.78 C487.74 166.07 488.41 166.37 489.08 166.65 C489.74 166.93 490.41 167.20 491.08 167.47 C491.74 167.73 492.41 167.99 493.08 168.26 C493.74 168.52 494.41 168.79 495.08 169.06 C495.74 169.33 496.41 169.62 497.08 169.90 C497.74 170.19 498.41 170.49 499.08 170.78 C499.74 171.07 500.41 171.37 501.08 171.65 C501.74 171.93 502.41 172.20 503.08 172.46 C503.74 172.72 504.41 172.96 505.08 173.21 C505.74 173.45 506.41 173.68 507.08 173.91 C507.74 174.14 508.41 174.36 509.08 174.57 C509.74 174.79 510.41 174.99 511.08 175.20 C511.74 175.41 512.41 175.60 513.08 175.82 C513.74 176.03 514.41 176.24 515.08 176.46 C515.74 176.69 516.41 176.93 517.08 177.17 C517.74 177.42 518.41 177.67 519.08 177.93 C519.74 178.18 520.41 178.44 521.08 178.71 C521.74 178.98 522.41 179.26 523.08 179.54 C523.74 179.82 524.41 180.10 525.08 180.39 C525.74 180.67 526.41 180.96 527.08 181.25 C527.74 181.54 528.41 181.83 529.08 182.12 C529.74 182.41 530.41 182.70 531.08 183.00 C531.74 183.30 532.41 183.59 533.08 183.91 C533.74 184.23 534.41 184.55 535.08 184.89 C535.74 185.23 536.41 185.59 537.08 185.95 C537.74 186.31 538.41 186.69 539.08 187.06 C539.74 187.44 540.41 187.82 541.08 188.21 C541.74 188.60 542.41 189.00 543.08 189.40 C543.74 189.81 544.41 190.21 545.08 190.64 C545.74 191.07 546.41 191.51 547.08 191.98 C547.74 192.45 548.41 192.94 549.08 193.45 C549.74 193.95 550.41 194.48 551.08 195.01 C551.74 195.54 552.41 196.08 553.08 196.62 C553.74 197.16 554.41 197.70 555.08 198.25 C555.74 198.79 556.41 199.35 557.08 199.89 C557.74 200.42 558.41 200.96 559.08 201.48 C559.74 202.00 560.41 202.49 561.08 202.98 C561.74 203.47 562.41 203.92 563.08 204.40 C563.74 204.88 564.41 205.35 565.08 205.84 C565.74 206.34 566.41 206.86 567.08 207.37 C567.74 207.89 568.41 208.43 569.08 208.95 C569.74 209.46 570.41 209.97 571.08 210.47 C571.74 210.96 572.41 211.44 573.08 211.91 C573.74 212.38 574.41 212.85 575.08 213.31 C575.74 213.78 576.41 214.25 577.08 214.72 C577.74 215.19 578.41 215.67 579.08 216.15 C579.74 216.64 580.41 217.13 581.08 217.63 C581.74 218.13 582.41 218.65 583.08 219.15 C583.74 219.66 584.41 220.17 585.08 220.66 C585.74 221.15 586.41 221.64 587.08 222.09 C587.74 222.54 588.41 222.99 589.08 223.38 C589.74 223.77 590.41 224.13 591.08 224.43 C591.74 224.74 592.41 224.98 593.08 225.20 C593.74 225.41 594.41 225.58 595.08 225.72 C595.74 225.86 596.41 225.97 597.08 226.06 C597.74 226.14 598.41 226.19 599.08 226.23 C599.74 226.26 600.41 226.27 601.08 226.27 C601.74 226.26 602.41 226.22 603.08 226.18 C603.74 226.14 604.41 226.07 605.08 226.01 C605.74 225.95 606.41 225.87 607.08 225.80 C607.74 225.72 608.41 225.64 609.08 225.57 C609.74 225.51 610.41 225.44 611.08 225.39 C611.74 225.33 612.41 225.29 613.08 225.26 C613.74 225.23 614.41 225.21 615.08 225.20 C615.74 225.20 616.41 225.21 617.08 225.23 C617.74 225.25 618.41 225.28 619.08 225.30 C619.74 225.32 620.41 225.35 621.08 225.36 C621.74 225.38 622.41 225.38 623.08 225.38 C623.74 225.37 624.41 225.36 625.08 225.34 C625.74 225.31 626.41 225.27 627.08 225.22 C627.74 225.17 628.41 225.10 629.08 225.02 C629.74 224.94 630.41 224.84 631.08 224.73 C631.74 224.62 632.41 224.48 633.08 224.34 C633.74 224.21 634.41 224.05 635.08 223.90 C635.74 223.76 636.41 223.61 637.08 223.46 C637.74 223.32 638.41 223.18 639.08 223.05 C639.74 222.92 640.41 222.80 641.08 222.68 C641.74 222.57 642.41 222.48 643.08 222.36 C643.74 222.25 644.41 222.15 645.08 222.00 C645.74 221.85 646.41 221.67 647.08 221.45 C647.74 221.23 648.41 220.96 649.08 220.69 C649.74 220.42 650.41 220.12 651.08 219.82 C651.74 219.52 652.41 219.21 653.08 218.89 C653.74 218.58 654.41 218.26 655.08 217.94 C655.74 217.62 656.41 217.30 657.08 216.98 C657.74 216.66 658.41 216.33 659.08 216.01 C659.74 215.69 660.41 215.37 661.08 215.06 C661.74 214.75 662.41 214.44 663.08 214.15 C663.74 213.87 664.41 213.59 665.08 213.34 C665.74 213.09 666.41 212.87 667.08 212.66 C667.74 212.46 668.41 212.28 669.08 212.11 C669.74 211.93 670.41 211.77 671.08 211.61 C671.74 211.44 672.41 211.29 673.08 211.13 C673.74 210.97 674.41 210.81 675.08 210.65 C675.74 210.49 676.41 210.33 677.08 210.17 C677.74 210.00 678.41 209.83 679.08 209.67 C679.74 209.50 680.41 209.33 681.08 209.18 C681.74 209.03 682.41 208.87 683.08 208.77 C683.74 208.66 684.41 208.58 685.08 208.55 C685.74 208.51 686.41 208.55 687.08 208.57 C687.74 208.59 688.41 208.65 689.08 208.65 C689.74 208.65 690.41 208.63 691.08 208.57 C691.74 208.50 692.41 208.40 693.08 208.26 C693.74 208.13 694.42 207.96 695.08 207.78 C695.73 207.60 696.68 207.30 697.00 207.20" fill="none" stroke="#222222" stroke-width="1.85" stroke-linejoin="round" stroke-linecap="round"/>
<path d="M90.46 76.10h2.24v2.24h-2.24zM112.86 65.49h2.24v2.24h-2.24zM128.75 61.29h2.24v2.24h-2.24zM141.08 59.88h2.24v2.24h-2.24zM151.15 59.38h2.24v2.24h-2.24zM159.66 59.18h2.24v2.24h-2.24zM167.04 59.08h2.24v2.24h-2.24zM173.55 59.47h2.24v2.24h-2.24zM179.37 59.98h2.24v2.24h-2.24zM184.63 60.69h2.24v2.24h-2.24zM189.44 61.49h2.24v2.24h-2.24zM194.06 62.68h1.84v1.84h-1.84zM198.16 63.80h1.84v1.84h-1.84zM201.97 64.78h1.84v1.84h-1.84zM205.53 66.00h1.84v1.84h-1.84zM208.88 67.38h1.84v1.84h-1.84zM212.04 68.80h1.84v1.84h-1.84zM215.03 70.00h1.84v1.84h-1.84zM217.86 71.42h1.84v1.84h-1.84zM220.55 72.66h1.84v1.84h-1.84zM223.12 73.84h1.84v1.84h-1.84zM225.58 74.94h1.84v1.84h-1.84zM227.93 76.31h1.84v1.84h-1.84zM230.19 77.49h1.84v1.84h-1.84zM232.35 78.50h1.84v1.84h-1.84zM234.44 79.46h1.84v1.84h-1.84zM236.45 80.60h1.84v1.84h-1.84zM238.38 81.53h1.84v1.84h-1.84zM240.26 82.43h1.84v1.84h-1.84zM242.07 83.40h1.84v1.84h-1.84zM243.82 84.27h1.84v1.84h-1.84zM245.52 85.08h1.84v1.84h-1.84zM247.17 85.90h1.84v1.84h-1.84zM248.77 86.78h1.84v1.84h-1.84zM250.33 87.67h1.84v1.84h-1.84zM251.84 88.42h1.84v1.84h-1.84zM253.32 89.10h1.84v1.84h-1.84zM254.75 89.74h1.84v1.84h-1.84zM256.15 90.23h1.84v1.84h-1.84zM257.51 90.71h1.84v1.84h-1.84zM258.85 91.18h1.84v1.84h-1.84zM260.14 91.65h1.84v1.84h-1.84zM261.41 92.16h1.84v1.84h-1.84zM262.66 92.66h1.84v1.84h-1.84z" fill="#1a1aff"/>
<path d="M263.08 93.38 C263.41 93.52 264.41 93.93 265.08 94.21 C265.74 94.49 266.41 94.77 267.08 95.06 C267.74 95.36 268.41 95.65 269.08 95.96 C269.74 96.27 270.41 96.58 271.08 96.90 C271.74 97.23 272.41 97.56 273.08 97.90 C273.74 98.24 274.41 98.58 275.08 98.93 C275.74 99.27 276.41 99.62 277.08 99.96 C277.74 100.30 278.41 100.64 279.08 100.96 C279.74 101.27 280.41 101.58 281.08 101.87 C281.74 102.16 282.41 102.43 283.08 102.71 C283.74 102.98 284.41 103.24 285.08 103.51 C285.74 103.77 286.41 104.03 287.08 104.30 C287.74 104.56 288.41 104.82 289.08 105.09 C289.74 105.35 290.41 105.61 291.08 105.88 C291.74 106.14 292.41 106.40 293.08 106.65 C293.74 106.91 294.41 107.17 295.08 107.42 C295.74 107.68 296.41 107.93 297.08 108.19 C297.74 108.44 298.41 108.69 299.08 108.95 C299.74 109.20 300.41 109.45 301.08 109.71 C301.74 109.96 302.41 110.21 303.08 110.47 C303.74 110.72 304.41 110.98 305.08 111.24 C305.74 111.50 306.41 111.76 307.08 112.02 C307.74 112.29 308.41 112.55 309.08 112.82 C309.74 113.09 310.41 113.36 311.08 113.63 C311.74 113.90 312.41 114.16 313.08 114.43 C313.74 114.70 314.41 114.97 315.08 115.24 C315.74 115.51 316.41 115.78 317.08 116.05 C317.74 116.33 318.41 116.60 319.08 116.88 C319.74 117.16 320.41 117.45 321.08 117.74 C321.74 118.02 322.41 118.31 323.08 118.60 C323.74 118.89 324.41 119.18 325.08 119.46 C325.74 119.75 326.41 120.04 327.08 120.33 C327.74 120.61 328.41 120.90 329.08 121.18 C329.74 121.45 330.41 121.72 331.08 121.99 C331.74 122.26 332.41 122.52 333.08 122.78 C333.74 123.03 334.41 123.29 335.08 123.55 C335.74 123.80 336.41 124.06 337.08 124.31 C337.74 124.57 338.41 124.82 339.08 125.08 C339.74 125.33 340.41 125.59 341.08 125.84 C341.74 126.10 342.41 126.36 343.08 126.61 C343.74 126.87 344.41 127.13 345.08 127.38 C345.74 127.64 346.41 127.90 347.08 128.17 C347.74 128.43 348.41 128.70 349.08 128.97 C349.74 129.23 350.41 129.50 351.08 129.77 C351.74 130.04 352.41 130.31 353.08 130.58 C353.74 130.85 354.41 131.12 355.08 131.39 C355.74 131.66 356.41 131.93 357.08 132.20 C357.74 132.47 358.41 132.74 359.08 133.01 C359.74 133.28 360.41 133.55 361.08 133.82 C361.74 134.09 362.41 134.36 363.08 134.63 C363.74 134.89 364.41 135.16 365.08 135.43 C365.74 135.70 366.41 135.96 367.08 136.23 C367.74 136.50 368.41 136.76 369.08 137.03 C369.74 137.30 370.41 137.56 371.08 137.83 C371.74 138.09 372.41 138.36 373.08 138.61 C373.74 138.86 374.41 139.11 375.08 139.34 C375.74 139.58 376.41 139.79 377.08 140.01 C377.74 140.22 378.41 140.43 379.08 140.63 C379.74 140.83 380.41 141.03 381.08 141.24 C381.74 141.44 382.41 141.64 383.08 141.84 C383.74 142.05 384.41 142.25 385.08 142.46 C385.74 142.67 386.41 142.88 387.08 143.10 C387.74 143.32 388.41 143.56 389.08 143.80 C389.74 144.05 390.41 144.31 391.08 144.56 C391.74 144.82 392.41 145.08 393.08 145.35 C393.74 145.61 394.41 145.87 395.08 146.14 C395.74 146.40 396.41 146.66 397.08 146.93 C397.74 147.21 398.41 147.47 399.08 147.76 C399.74 148.05 400.41 148.35 401.08 148.68 C401.74 149.00 402.41 149.35 403.08 149.70 C403.74 150.05 404.41 150.42 405.08 150.79 C405.74 151.16 406.41 151.53 407.08 151.90 C407.74 152.28 408.41 152.65 409.08 153.02 C409.74 153.40 410.41 153.77 411.08 154.15 C411.74 154.54 412.41 154.93 413.08 155.34 C413.74 155.75 414.41 156.19 415.08 156.63 C415.74 157.07 416.41 157.54 417.08 158.00 C417.74 158.46 418.41 158.94 419.08 159.41 C419.74 159.88 420.41 160.35 421.08 160.81 C421.74 161.27 422.41 161.74 423.08 162.17 C423.74 162.60 424.41 163.01 425.08 163.39 C425.74 163.76 426.41 164.08 427.08 164.39 C427.74 164.71 428.41 164.98 429.08 165.27 C429.74 165.55 430.41 165.82 431.08 166.10 C431.74 166.37 432.41 166.64 433.08 166.92 C433.74 167.19 434.41 167.47 435.08 167.73 C435.74 168.00 436.41 168.27 437.08 168.53 C437.74 168.79 438.41 169.04 439.08 169.29 C439.74 169.53 440.41 169.77 441.08 170.00 C441.74 170.24 442.41 170.47 443.08 170.71 C443.74 170.94 444.41 171.17 445.08 171.41 C445.74 171.64 446.41 171.87 447.08 172.10 C447.74 172.34 448.41 172.57 449.08 172.80 C449.74 173.04 450.41 173.27 451.08 173.51 C451.74 173.74 452.41 173.97 453.08 174.21 C453.74 174.44 454.41 174.68 455.08 174.92 C455.74 175.15 456.41 175.39 457.08 175.62 C457.74 175.85 458.41 176.09 459.08 176.32 C459.74 176.55 460.41 176.78 461.08 177.01 C461.74 177.24 462.41 177.47 463.08 177.70 C463.74 177.93 464.41 178.16 465.08 178.39 C465.74 178.62 466.41 178.85 467.08 179.09 C467.74 179.32 468.41 179.55 469.08 179.78 C469.74 180.01 470.41 180.25 471.08 180.48 C471.74 180.72 472.41 180.95 473.08 181.18 C473.74 181.42 474.41 181.65 475.08 181.88 C475.74 182.12 476.41 182.35 477.08 182.58 C477.74 182.80 478.41 183.03 479.08 183.25 C479.74 183.48 480.41 183.70 481.08 183.93 C481.74 184.15 482.41 184.37 483.08 184.60 C483.74 184.82 484.41 185.04 485.08 185.28 C485.74 185.51 486.41 185.74 487.08 185.98 C487.74 186.22 488.41 186.46 489.08 186.71 C489.74 186.95 490.41 187.20 491.08 187.45 C491.74 187.69 492.41 187.94 493.08 188.19 C493.74 188.43 494.41 188.68 495.08 188.92 C495.74 189.17 496.41 189.41 497.08 189.65 C497.74 189.90 498.41 190.14 499.08 190.38 C499.74 190.63 500.41 190.88 501.08 191.14 C501.74 191.40 502.41 191.67 503.08 191.96 C503.74 192.24 504.41 192.54 505.08 192.84 C505.74 193.14 506.41 193.45 507.08 193.76 C507.74 194.08 508.41 194.39 509.08 194.72 C509.74 195.04 510.41 195.37 511.08 195.69 C511.74 196.02 512.41 196.36 513.08 196.69 C513.74 197.02 514.41 197.36 515.08 197.69 C515.74 198.03 516.41 198.37 517.08 198.70 C517.74 199.04 518.41 199.38 519.08 199.70 C519.74 200.03 520.41 200.35 521.08 200.66 C521.74 200.96 522.41 201.25 523.08 201.54 C523.74 201.82 524.41 202.09 525.08 202.37 C525.74 202.64 526.41 202.90 527.08 203.17 C527.74 203.44 528.41 203.71 529.08 203.98 C529.74 204.25 530.41 204.52 531.08 204.79 C531.74 205.06 532.41 205.33 533.08 205.60 C533.74 205.87 534.41 206.14 535.08 206.41 C535.74 206.68 536.41 206.94 537.08 207.21 C537.74 207.48 538.41 207.74 539.08 208.01 C539.74 208.27 540.41 208.54 541.08 208.80 C541.74 209.06 542.41 209.33 543.08 209.59 C543.74 209.85 544.41 210.11 545.08 210.37 C545.74 210.63 546.41 210.90 547.08 211.16 C547.74 211.42 548.41 211.69 549.08 211.95 C549.74 212.22 550.41 212.48 551.08 212.75 C551.74 213.01 552.41 213.27 553.08 213.53 C553.74 213.78 554.41 214.03 555.08 214.28 C555.74 214.53 556.41 214.77 557.08 215.01 C557.74 215.25 558.41 215.49 559.08 215.73 C559.74 215.97 560.41 216.20 561.08 216.44 C561.74 216.68 562.41 216.91 563.08 217.15 C563.74 217.39 564.41 217.62 565.08 217.86 C565.74 218.09 566.41 218.33 567.08 218.57 C567.74 218.81 568.41 219.05 569.08 219.30 C569.74 219.56 570.41 219.82 571.08 220.09 C571.74 220.37 572.41 220.65 573.08 220.94 C573.74 221.23 574.41 221.53 575.08 221.83 C575.74 222.13 576.41 222.44 577.08 222.74 C577.74 223.04 578.41 223.35 579.08 223.63 C579.74 223.90 580.41 224.17 581.08 224.41 C581.74 224.65 582.41 224.87 583.08 225.06 C583.74 225.25 584.41 225.42 585.08 225.55 C585.74 225.68 586.41 225.78 587.08 225.85 C587.74 225.91 588.41 225.95 589.08 225.95 C589.74 225.96 590.41 225.93 591.08 225.88 C591.74 225.83 592.41 225.74 593.08 225.64 C593.74 225.54 594.41 225.41 595.08 225.29 C595.74 225.17 596.41 225.04 597.08 224.90 C597.74 224.77 598.41 224.64 599.08 224.50 C599.74 224.36 600.41 224.22 601.08 224.07 C601.74 223.91 602.41 223.75 603.08 223.58 C603.74 223.42 604.41 223.25 605.08 223.09 C605.74 222.92 606.41 222.77 607.08 222.62 C607.74 222.47 608.41 222.33 609.08 222.18 C609.74 222.03 610.41 221.88 611.08 221.71 C611.74 221.55 612.41 221.37 613.08 221.19 C613.74 221.00 614.41 220.80 615.08 220.59 C615.74 220.38 616.41 220.16 617.08 219.93 C617.74 219.70 618.41 219.46 619.08 219.22 C619.74 218.98 620.41 218.74 621.08 218.50 C621.74 218.27 622.41 218.03 623.08 217.79 C623.74 217.56 624.41 217.32 625.08 217.09 C625.74 216.86 626.41 216.62 627.08 216.39 C627.74 216.16 628.41 215.93 629.08 215.70 C629.74 215.47 630.41 215.24 631.08 215.02 C631.74 214.79 632.41 214.57 633.08 214.34 C633.74 214.11 634.41 213.89 635.08 213.66 C635.74 213.43 636.41 213.19 637.08 212.96 C637.74 212.72 638.41 212.48 639.08 212.25 C639.74 212.02 640.41 211.79 641.08 211.57 C641.74 211.35 642.41 211.14 643.08 210.93 C643.74 210.72 644.41 210.52 645.08 210.31 C645.74 210.10 646.41 209.89 647.08 209.67 C647.74 209.45 648.41 209.23 649.08 209.00 C649.74 208.78 650.41 208.55 651.08 208.33 C651.74 208.11 652.41 207.90 653.08 207.68 C653.74 207.47 654.41 207.26 655.08 207.06 C655.74 206.85 656.41 206.65 657.08 206.44 C657.74 206.23 658.41 206.02 659.08 205.79 C659.74 205.56 660.41 205.31 661.08 205.04 C661.74 204.78 662.41 204.48 663.08 204.20 C663.74 203.92 664.51 203.63 665.08 203.36 C665.65 203.10 666.26 202.73 666.50 202.60" fill="none" stroke="#1a1aff" stroke-width="1.85" stroke-linejoin="round" stroke-linecap="round"/>
<path d="M90.46 64.00h2.24v2.24h-2.24zM112.86 53.79h2.24v2.24h-2.24zM128.75 49.79h2.24v2.24h-2.24zM141.08 49.90h2.24v2.24h-2.24zM151.15 51.57h2.24v2.24h-2.24zM159.66 53.26h2.24v2.24h-2.24zM167.04 54.69h2.24v2.24h-2.24zM173.55 55.66h2.24v2.24h-2.24zM179.37 56.38h2.24v2.24h-2.24zM184.63 56.89h2.24v2.24h-2.24zM189.44 57.69h2.24v2.24h-2.24zM194.06 58.28h1.84v1.84h-1.84zM198.16 58.79h1.84v1.84h-1.84zM201.97 59.38h1.84v1.84h-1.84zM205.53 60.19h1.84v1.84h-1.84zM208.88 60.98h1.84v1.84h-1.84zM212.04 61.69h1.84v1.84h-1.84zM215.03 62.39h1.84v1.84h-1.84zM217.86 63.30h1.84v1.84h-1.84zM220.55 64.04h1.84v1.84h-1.84zM223.12 64.93h1.84v1.84h-1.84zM225.58 65.81h1.84v1.84h-1.84zM227.93 66.53h1.84v1.84h-1.84zM230.19 67.22h1.84v1.84h-1.84zM232.35 67.89h1.84v1.84h-1.84zM234.44 68.53h1.84v1.84h-1.84zM236.45 69.16h1.84v1.84h-1.84zM238.38 69.77h1.84v1.84h-1.84zM240.26 70.48h1.84v1.84h-1.84zM242.07 71.29h1.84v1.84h-1.84zM243.82 72.08h1.84v1.84h-1.84zM245.52 72.85h1.84v1.84h-1.84zM247.17 73.52h1.84v1.84h-1.84zM248.77 74.08h1.84v1.84h-1.84zM250.33 74.62h1.84v1.84h-1.84zM251.84 75.15h1.84v1.84h-1.84zM253.32 75.67h1.84v1.84h-1.84zM254.75 76.21h1.84v1.84h-1.84zM256.15 76.74h1.84v1.84h-1.84zM257.51 77.25h1.84v1.84h-1.84zM258.85 77.75h1.84v1.84h-1.84zM260.14 78.24h1.84v1.84h-1.84zM261.41 78.68h1.84v1.84h-1.84zM262.66 79.12h1.84v1.84h-1.84z" fill="#ff1a1a"/>
<path d="M263.08 79.86 C263.41 79.98 264.41 80.33 265.08 80.56 C265.74 80.79 266.41 81.03 267.08 81.26 C267.74 81.49 268.41 81.73 269.08 81.96 C269.74 82.20 270.41 82.44 271.08 82.68 C271.74 82.92 272.41 83.16 273.08 83.41 C273.74 83.66 274.41 83.91 275.08 84.15 C275.74 84.40 276.41 84.65 277.08 84.90 C277.74 85.15 278.41 85.40 279.08 85.64 C279.74 85.89 280.41 86.13 281.08 86.38 C281.74 86.62 282.41 86.86 283.08 87.10 C283.74 87.33 284.41 87.57 285.08 87.81 C285.74 88.05 286.41 88.29 287.08 88.52 C287.74 88.76 288.41 89.00 289.08 89.24 C289.74 89.48 290.41 89.72 291.08 89.97 C291.74 90.21 292.41 90.46 293.08 90.72 C293.74 90.98 294.41 91.25 295.08 91.52 C295.74 91.79 296.41 92.07 297.08 92.35 C297.74 92.63 298.41 92.91 299.08 93.19 C299.74 93.46 300.41 93.74 301.08 94.02 C301.74 94.30 302.41 94.58 303.08 94.86 C303.74 95.13 304.41 95.41 305.08 95.68 C305.74 95.94 306.41 96.21 307.08 96.47 C307.74 96.73 308.41 96.99 309.08 97.24 C309.74 97.50 310.41 97.75 311.08 98.00 C311.74 98.26 312.41 98.51 313.08 98.76 C313.74 99.02 314.41 99.27 315.08 99.53 C315.74 99.78 316.41 100.04 317.08 100.30 C317.74 100.57 318.41 100.84 319.08 101.12 C319.74 101.40 320.41 101.69 321.08 101.98 C321.74 102.28 322.41 102.58 323.08 102.88 C323.74 103.18 324.41 103.48 325.08 103.78 C325.74 104.08 326.41 104.38 327.08 104.68 C327.74 104.98 328.41 105.27 329.08 105.57 C329.74 105.86 330.41 106.15 331.08 106.44 C331.74 106.72 332.41 107.01 333.08 107.29 C333.74 107.57 334.41 107.85 335.08 108.13 C335.74 108.41 336.41 108.69 337.08 108.97 C337.74 109.25 338.41 109.53 339.08 109.80 C339.74 110.08 340.41 110.36 341.08 110.64 C341.74 110.92 342.41 111.20 343.08 111.48 C343.74 111.76 344.41 112.04 345.08 112.32 C345.74 112.60 346.41 112.88 347.08 113.16 C347.74 113.43 348.41 113.71 349.08 113.99 C349.74 114.27 350.41 114.55 351.08 114.82 C351.74 115.10 352.41 115.38 353.08 115.66 C353.74 115.93 354.41 116.21 355.08 116.49 C355.74 116.77 356.41 117.05 357.08 117.32 C357.74 117.60 358.41 117.88 359.08 118.16 C359.74 118.43 360.41 118.71 361.08 118.98 C361.74 119.26 362.41 119.53 363.08 119.80 C363.74 120.07 364.41 120.33 365.08 120.59 C365.74 120.85 366.41 121.11 367.08 121.37 C367.74 121.62 368.41 121.88 369.08 122.13 C369.74 122.39 370.41 122.64 371.08 122.90 C371.74 123.15 372.41 123.41 373.08 123.66 C373.74 123.92 374.41 124.17 375.08 124.42 C375.74 124.67 376.41 124.92 377.08 125.17 C377.74 125.42 378.41 125.67 379.08 125.92 C379.74 126.16 380.41 126.41 381.08 126.66 C381.74 126.91 382.41 127.16 383.08 127.41 C383.74 127.65 384.41 127.90 385.08 128.15 C385.74 128.40 386.41 128.65 387.08 128.90 C387.74 129.15 388.41 129.41 389.08 129.66 C389.74 129.92 390.41 130.17 391.08 130.43 C391.74 130.69 392.41 130.95 393.08 131.21 C393.74 131.46 394.41 131.72 395.08 131.98 C395.74 132.24 396.41 132.50 397.08 132.76 C397.74 133.02 398.41 133.27 399.08 133.53 C399.74 133.79 400.41 134.05 401.08 134.32 C401.74 134.58 402.41 134.84 403.08 135.10 C403.74 135.36 404.41 135.63 405.08 135.89 C405.74 136.15 406.41 136.42 407.08 136.68 C407.74 136.94 408.41 137.21 409.08 137.47 C409.74 137.73 410.41 138.00 411.08 138.26 C411.74 138.52 412.41 138.78 413.08 139.03 C413.74 139.29 414.41 139.54 415.08 139.79 C415.74 140.04 416.41 140.28 417.08 140.52 C417.74 140.77 418.41 141.01 419.08 141.25 C419.74 141.49 420.41 141.73 421.08 141.98 C421.74 142.22 422.41 142.47 423.08 142.72 C423.74 142.97 424.41 143.23 425.08 143.49 C425.74 143.76 426.41 144.04 427.08 144.32 C427.74 144.60 428.41 144.88 429.08 145.17 C429.74 145.46 430.41 145.75 431.08 146.04 C431.74 146.33 432.41 146.62 433.08 146.91 C433.74 147.19 434.41 147.48 435.08 147.77 C435.74 148.06 436.41 148.35 437.08 148.63 C437.74 148.91 438.41 149.20 439.08 149.47 C439.74 149.75 440.41 150.03 441.08 150.30 C441.74 150.58 442.41 150.85 443.08 151.13 C443.74 151.40 444.41 151.67 445.08 151.95 C445.74 152.22 446.41 152.50 447.08 152.77 C447.74 153.05 448.41 153.33 449.08 153.61 C449.74 153.90 450.41 154.19 451.08 154.49 C451.74 154.79 452.41 155.11 453.08 155.42 C453.74 155.74 454.41 156.07 455.08 156.39 C455.74 156.71 456.41 157.04 457.08 157.37 C457.74 157.69 458.41 158.02 459.08 158.34 C459.74 158.67 460.41 159.00 461.08 159.34 C461.74 159.68 462.41 160.02 463.08 160.39 C463.74 160.76 464.41 161.15 465.08 161.55 C465.74 161.95 466.41 162.38 467.08 162.79 C467.74 163.20 468.41 163.63 469.08 164.02 C469.74 164.42 470.41 164.80 471.08 165.15 C471.74 165.51 472.41 165.83 473.08 166.14 C473.74 166.45 474.41 166.74 475.08 167.04 C475.74 167.34 476.41 167.63 477.08 167.93 C477.74 168.23 478.41 168.53 479.08 168.84 C479.74 169.15 480.41 169.46 481.08 169.77 C481.74 170.08 482.41 170.40 483.08 170.73 C483.74 171.05 484.41 171.38 485.08 171.71 C485.74 172.04 486.41 172.38 487.08 172.72 C487.74 173.05 488.41 173.39 489.08 173.73 C489.74 174.06 490.41 174.40 491.08 174.73 C491.74 175.07 492.41 175.40 493.08 175.73 C493.74 176.06 494.41 176.39 495.08 176.70 C495.74 177.02 496.41 177.33 497.08 177.63 C497.74 177.94 498.41 178.23 499.08 178.53 C499.74 178.82 500.41 179.10 501.08 179.39 C501.74 179.67 502.41 179.94 503.08 180.21 C503.74 180.48 504.41 180.74 505.08 181.01 C505.74 181.27 506.41 181.53 507.08 181.80 C507.74 182.07 508.41 182.35 509.08 182.64 C509.74 182.92 510.41 183.22 511.08 183.53 C511.74 183.83 512.41 184.15 513.08 184.46 C513.74 184.78 514.41 185.11 515.08 185.44 C515.74 185.77 516.41 186.11 517.08 186.45 C517.74 186.79 518.41 187.14 519.08 187.48 C519.74 187.82 520.41 188.17 521.08 188.51 C521.74 188.85 522.41 189.18 523.08 189.52 C523.74 189.85 524.41 190.18 525.08 190.51 C525.74 190.85 526.41 191.18 527.08 191.52 C527.74 191.86 528.41 192.21 529.08 192.57 C529.74 192.92 530.41 193.28 531.08 193.64 C531.74 193.99 532.41 194.36 533.08 194.71 C533.74 195.06 534.41 195.41 535.08 195.75 C535.74 196.09 536.41 196.43 537.08 196.76 C537.74 197.09 538.41 197.42 539.08 197.74 C539.74 198.06 540.41 198.38 541.08 198.70 C541.74 199.01 542.41 199.32 543.08 199.62 C543.74 199.93 544.41 200.23 545.08 200.52 C545.74 200.81 546.41 201.09 547.08 201.36 C547.74 201.63 548.41 201.89 549.08 202.14 C549.74 202.39 550.41 202.63 551.08 202.88 C551.74 203.13 552.41 203.37 553.08 203.63 C553.74 203.89 554.41 204.16 555.08 204.43 C555.74 204.71 556.41 205.00 557.08 205.29 C557.74 205.59 558.41 205.89 559.08 206.20 C559.74 206.52 560.41 206.85 561.08 207.18 C561.74 207.52 562.41 207.88 563.08 208.22 C563.74 208.56 564.41 208.90 565.08 209.22 C565.74 209.54 566.41 209.84 567.08 210.13 C567.74 210.42 568.41 210.69 569.08 210.94 C569.74 211.20 570.41 211.43 571.08 211.65 C571.74 211.88 572.41 212.08 573.08 212.27 C573.74 212.46 574.41 212.63 575.08 212.79 C575.74 212.94 576.41 213.08 577.08 213.20 C577.74 213.33 578.41 213.44 579.08 213.54 C579.74 213.65 580.41 213.74 581.08 213.83 C581.74 213.92 582.41 214.00 583.08 214.09 C583.74 214.19 584.41 214.27 585.08 214.38 C585.74 214.49 586.41 214.61 587.08 214.75 C587.74 214.88 588.41 215.04 589.08 215.20 C589.74 215.36 590.41 215.53 591.08 215.71 C591.74 215.89 592.41 216.09 593.08 216.28 C593.74 216.48 594.41 216.69 595.08 216.90 C595.74 217.11 596.41 217.32 597.08 217.54 C597.74 217.76 598.41 217.98 599.08 218.20 C599.74 218.42 600.41 218.65 601.08 218.88 C601.74 219.12 602.41 219.35 603.08 219.59 C603.74 219.82 604.41 220.06 605.08 220.28 C605.74 220.50 606.41 220.72 607.08 220.93 C607.74 221.14 608.41 221.34 609.08 221.55 C609.74 221.77 610.41 221.99 611.08 222.24 C611.74 222.48 612.41 222.74 613.08 223.01 C613.74 223.28 614.41 223.57 615.08 223.86 C615.74 224.16 616.41 224.46 617.08 224.77 C617.74 225.08 618.41 225.40 619.08 225.71 C619.74 226.02 620.41 226.33 621.08 226.64 C621.74 226.94 622.41 227.25 623.08 227.52 C623.74 227.80 624.41 228.07 625.08 228.31 C625.74 228.54 626.41 228.75 627.08 228.93 C627.74 229.10 628.41 229.25 629.08 229.38 C629.74 229.51 630.41 229.61 631.08 229.70 C631.74 229.79 632.41 229.85 633.08 229.90 C633.74 229.95 634.41 229.98 635.08 230.01 C635.74 230.03 636.41 230.04 637.08 230.05 C637.74 230.05 638.41 230.04 639.08 230.03 C639.74 230.03 640.41 230.01 641.08 230.00 C641.74 229.99 642.41 229.97 643.08 229.96 C643.74 229.94 644.41 229.93 645.08 229.91 C645.74 229.89 646.41 229.87 647.08 229.85 C647.74 229.82 648.41 229.79 649.08 229.77 C649.74 229.74 650.41 229.71 651.08 229.68 C651.74 229.65 652.41 229.62 653.08 229.58 C653.74 229.55 654.41 229.52 655.08 229.49 C655.74 229.45 656.41 229.42 657.08 229.38 C657.74 229.34 658.41 229.30 659.08 229.26 C659.74 229.22 660.41 229.17 661.08 229.13 C661.74 229.08 662.41 229.03 663.08 228.98 C663.74 228.93 664.41 228.88 665.08 228.83 C665.74 228.78 666.41 228.73 667.08 228.67 C667.74 228.62 668.41 228.56 669.08 228.51 C669.74 228.45 670.41 228.38 671.08 228.32 C671.74 228.25 672.41 228.18 673.08 228.10 C673.74 228.03 674.41 227.95 675.08 227.87 C675.74 227.78 676.41 227.71 677.08 227.59 C677.74 227.47 678.41 227.36 679.08 227.15 C679.74 226.95 680.41 226.70 681.08 226.34 C681.74 225.98 682.74 225.21 683.08 224.98" fill="none" stroke="#ff1a1a" stroke-width="1.85" stroke-linejoin="round" stroke-linecap="round"/>
<path d="M683.08 224.98 C683.41 224.67 684.41 223.77 685.08 223.11 C685.74 222.44 686.41 221.69 687.08 220.97 C687.74 220.25 688.41 219.51 689.08 218.78 C689.74 218.05 690.41 217.31 691.08 216.61 C691.74 215.91 692.41 215.23 693.08 214.58 C693.74 213.93 694.42 213.33 695.08 212.73 C695.73 212.14 696.68 211.29 697.00 211.00" fill="none" stroke="#ff1a1a" stroke-width="1.45" stroke-linecap="round"/>
<line x1="339.9" y1="136.7" x2="445.4" y2="180.1" stroke="#ff0000" stroke-width="2.4" stroke-dasharray="2.3 2.3"/>
<line x1="557.6" y1="231.5" x2="671" y2="231.5" stroke="#ff0000" stroke-width="2.4" stroke-dasharray="2.2 2.0"/>
<rect x="599.4" y="38.20" width="1.8" height="1.8" fill="#1a8cd2"/>
<text x="610.6" y="45.20" class="leg">Sample</text>
<path d="M673.84 45.20 L673.84 35.77 L671.12 37.47 L671.12 35.69 L673.96 33.85 L676.11 33.85 L676.11 45.20Z" fill="#111" stroke="#111" stroke-width="0.35"/>
<rect x="599.4" y="59.50" width="1.8" height="1.8" fill="#efb426"/>
<text x="610.6" y="66.50" class="leg">Sample2</text>
<rect x="599.4" y="80.80" width="1.8" height="1.8" fill="#222222"/>
<text x="610.6" y="87.80" class="leg">Sample3</text>
<rect x="599.4" y="102.10" width="1.8" height="1.8" fill="#1a1aff"/>
<text x="610.6" y="109.10" class="leg">Sample4</text>
<rect x="599.4" y="123.40" width="1.8" height="1.8" fill="#ff1a1a"/>
<text x="610.6" y="130.40" class="leg">Sample5</text>
<path d="M34.73 27.30 L34.73 18.16 L32.09 19.81 L32.09 18.08 L34.85 16.29 L36.93 16.29 L36.93 27.30Z" fill="#1a1a1a" stroke="#1a1a1a" stroke-width="0.35"/><text x="39.90" y="27.30" class="tk">0</text><text x="49.40" y="18.50" class="tk sup">3</text>
<path d="M34.73 129.63 L34.73 120.49 L32.09 122.14 L32.09 120.41 L34.85 118.63 L36.93 118.63 L36.93 129.63Z" fill="#1a1a1a" stroke="#1a1a1a" stroke-width="0.35"/><text x="39.90" y="129.63" class="tk">0</text><text x="49.40" y="120.83" class="tk sup">2</text>
<path d="M34.73 231.97 L34.73 222.83 L32.09 224.47 L32.09 222.75 L34.85 220.96 L36.93 220.96 L36.93 231.97Z" fill="#1a1a1a" stroke="#1a1a1a" stroke-width="0.35"/><text x="39.90" y="231.97" class="tk">0</text><path d="M52.43 223.17 L52.43 215.74 L50.29 217.08 L50.29 215.68 L52.53 214.22 L54.21 214.22 L54.21 223.17Z" fill="#1a1a1a" stroke="#1a1a1a" stroke-width="0.35"/>
<path d="M34.73 334.30 L34.73 325.16 L32.09 326.81 L32.09 325.08 L34.85 323.29 L36.93 323.29 L36.93 334.30Z" fill="#1a1a1a" stroke="#1a1a1a" stroke-width="0.35"/><text x="39.90" y="334.30" class="tk">0</text><text x="49.40" y="325.50" class="tk sup">0</text>
<path d="M49.76 351.60 L49.76 342.46 L47.12 344.11 L47.12 342.38 L49.87 340.59 L51.95 340.59 L51.95 351.60Z" fill="#1a1a1a" stroke="#1a1a1a" stroke-width="0.35"/><text x="54.92" y="351.60" class="tk">0</text><text x="64.42" y="342.80" class="tk sup">-</text><text x="68.75" y="342.80" class="tk sup">3</text>
<path d="M176.96 351.60 L176.96 342.46 L174.32 344.11 L174.32 342.38 L177.07 340.59 L179.15 340.59 L179.15 351.60Z" fill="#1a1a1a" stroke="#1a1a1a" stroke-width="0.35"/><text x="182.12" y="351.60" class="tk">0</text><text x="191.62" y="342.80" class="tk sup">-</text><text x="195.95" y="342.80" class="tk sup">2</text>
<path d="M304.16 351.60 L304.16 342.46 L301.52 344.11 L301.52 342.38 L304.27 340.59 L306.35 340.59 L306.35 351.60Z" fill="#1a1a1a" stroke="#1a1a1a" stroke-width="0.35"/><text x="309.32" y="351.60" class="tk">0</text><text x="318.82" y="342.80" class="tk sup">-</text><path d="M326.18 342.80 L326.18 335.37 L324.04 336.71 L324.04 335.31 L326.28 333.86 L327.97 333.86 L327.97 342.80Z" fill="#1a1a1a" stroke="#1a1a1a" stroke-width="0.35"/>
<path d="M433.52 351.60 L433.52 342.46 L430.88 344.11 L430.88 342.38 L433.64 340.59 L435.72 340.59 L435.72 351.60Z" fill="#1a1a1a" stroke="#1a1a1a" stroke-width="0.35"/><text x="438.69" y="351.60" class="tk">0</text><text x="448.18" y="342.80" class="tk sup">0</text>
<path d="M560.72 351.60 L560.72 342.46 L558.08 344.11 L558.08 342.38 L560.84 340.59 L562.92 340.59 L562.92 351.60Z" fill="#1a1a1a" stroke="#1a1a1a" stroke-width="0.35"/><text x="565.89" y="351.60" class="tk">0</text><path d="M578.42 342.80 L578.42 335.37 L576.27 336.71 L576.27 335.31 L578.51 333.86 L580.20 333.86 L580.20 342.80Z" fill="#1a1a1a" stroke="#1a1a1a" stroke-width="0.35"/>
<path d="M687.92 351.60 L687.92 342.46 L685.28 344.11 L685.28 342.38 L688.04 340.59 L690.12 340.59 L690.12 351.60Z" fill="#1a1a1a" stroke="#1a1a1a" stroke-width="0.35"/><text x="693.09" y="351.60" class="tk">0</text><text x="702.58" y="342.80" class="tk sup">2</text>
<text x="302.6" y="375" class="axl" textLength="152" lengthAdjust="spacingAndGlyphs">Average Time (s)</text>
<text transform="translate(23.6,304.4) rotate(-90)" class="axl" textLength="217" lengthAdjust="spacingAndGlyphs">Allan Standard Variance</text>
<text transform="translate(23.6,84.2) rotate(-90)" class="axl" textLength="45.5" lengthAdjust="spacingAndGlyphs">(<tspan font-size="12" dx="2" dy="-2.5">°</tspan><tspan dy="2.5"> /h)</tspan></text>
<text x="527.3" y="252.4" class="ann" textLength="161" lengthAdjust="spacingAndGlyphs">Bias Instability (°/ h)</text>
<text transform="translate(336.2,160.9) rotate(22.6)" class="ann" textLength="93" lengthAdjust="spacingAndGlyphs">ARW (°/<tspan font-size="21">√</tspan>h)</text>
</svg>
</body></html>
